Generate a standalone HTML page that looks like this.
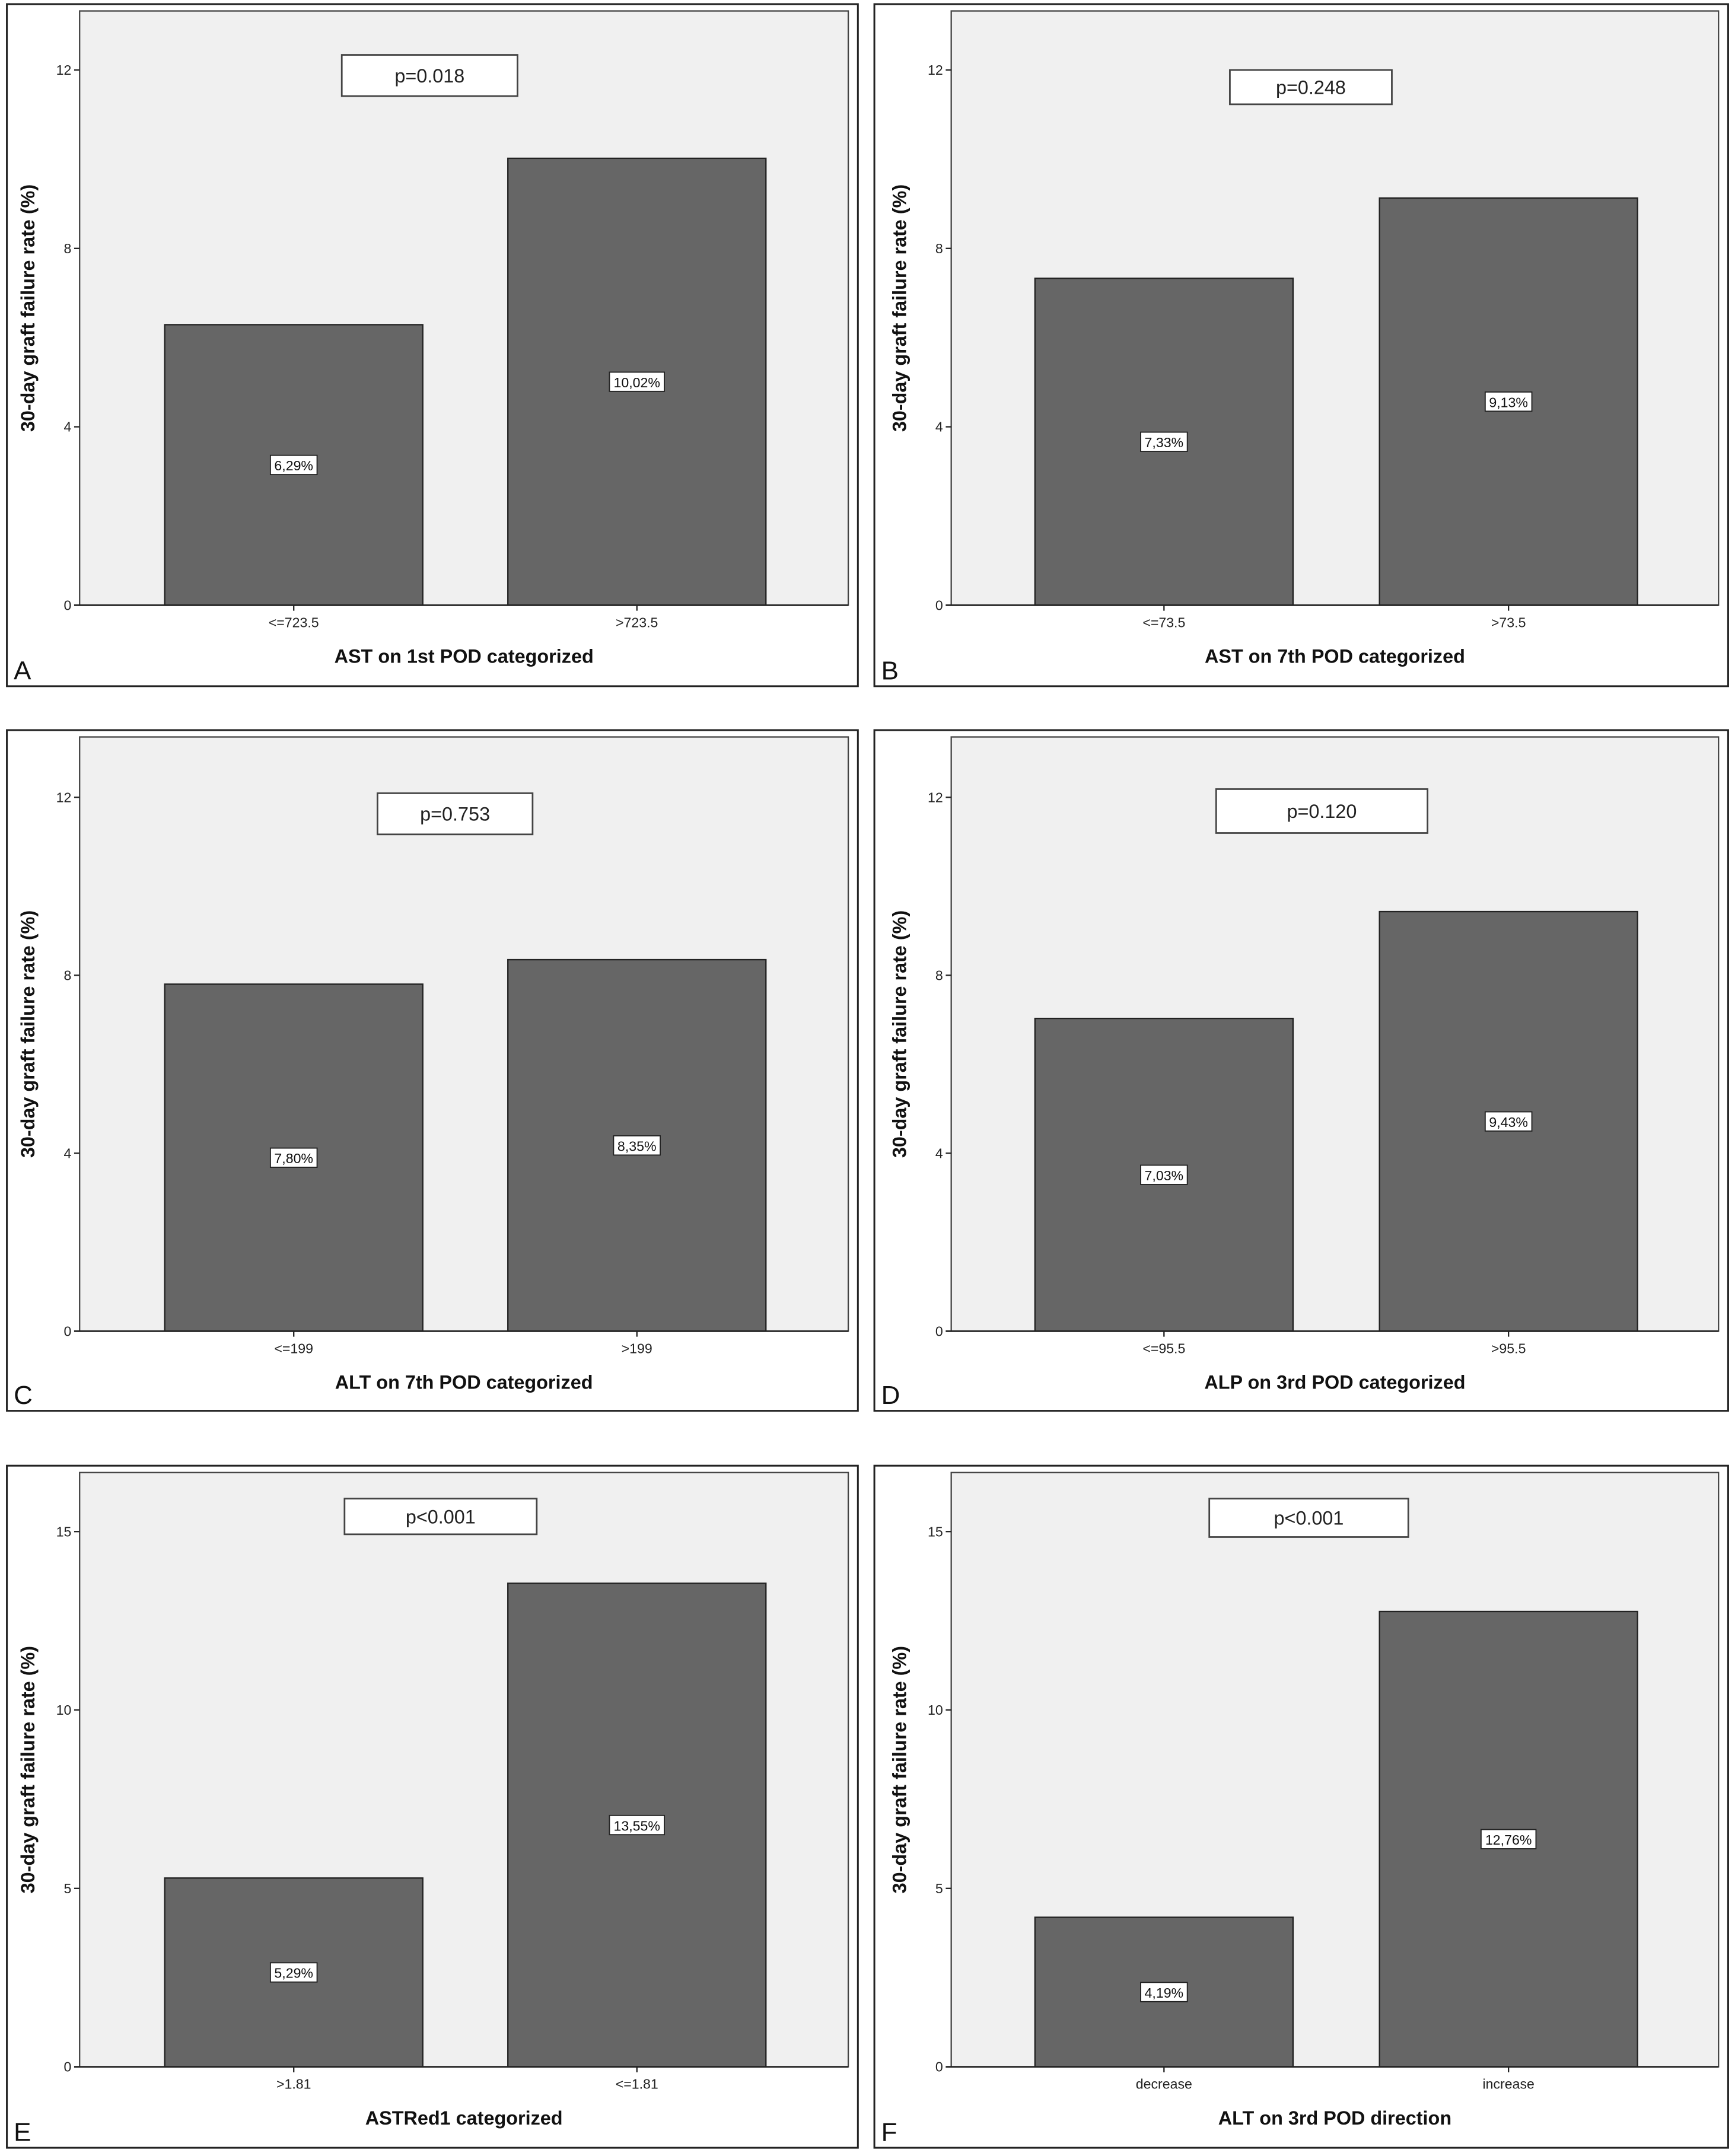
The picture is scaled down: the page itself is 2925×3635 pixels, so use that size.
<!DOCTYPE html>
<html><head><meta charset="utf-8"><style>
html,body{margin:0;padding:0;background:#fff}
svg{display:block}
text{font-family:"Liberation Sans",sans-serif}
</style></head><body>
<svg id="fig" width="2925" height="3635" viewBox="0 0 1264 1571" preserveAspectRatio="none" xmlns="http://www.w3.org/2000/svg"></svg>
<script>
const panelLetters = ["A","B","C","D","E","F"];
const xTitles = ["AST on 1st POD categorized","AST on 7th POD categorized","ALT on 7th POD categorized","ALP on 3rd POD categorized","ASTRed1 categorized","ALT on 3rd POD direction"];
const categoriesA = ["<=723.5",">723.5"];
const categoriesB = ["<=73.5",">73.5"];
const categoriesC = ["<=199",">199"];
const categoriesD = ["<=95.5",">95.5"];
const categoriesE = [">1.81","<=1.81"];
const categoriesF = ["decrease","increase"];
const valuesA = [6.29,10.02];
const valuesB = [7.33,9.13];
const valuesC = [7.80,8.35];
const valuesD = [7.03,9.43];
const valuesE = [5.29,13.55];
const valuesF = [4.19,12.76];
const labelsA = ["6,29%","10,02%"];
const labelsB = ["7,33%","9,13%"];
const labelsC = ["7,80%","8,35%"];
const labelsD = ["7,03%","9,43%"];
const labelsE = ["5,29%","13,55%"];
const labelsF = ["4,19%","12,76%"];
const pValues = ["p=0.018","p=0.248","p=0.753","p=0.120","p<0.001","p<0.001"];
const ticksRow12 = [0,4,8,12];
const ticksRow3 = [0,5,10,15];

const cats=[categoriesA,categoriesB,categoriesC,categoriesD,categoriesE,categoriesF];
const vals=[valuesA,valuesB,valuesC,valuesD,valuesE,valuesF];
const labs=[labelsA,labelsB,labelsC,labelsD,labelsE,labelsF];
const NS="http://www.w3.org/2000/svg";
const svg=document.getElementById('fig');
function mk(tag,attrs,parent,txt){const e=document.createElementNS(NS,tag);for(const k in attrs)e.setAttribute(k,attrs[k]);if(txt!==undefined)e.textContent=txt;(parent||svg).appendChild(e);return e;}
const cols=[{ox:5,ow:620,px:58,pr:618,bc:[214,464],yt:25},{ox:637,ow:622,px:693,pr:1252,bc:[848,1099],yt:660}];
const rows=[{oy:3,ob:500,pt:8,base:441,per:32.5,ticks:ticksRow12},{oy:532,ob:1028,pt:537,base:970,per:32.42,ticks:ticksRow12},{oy:1068,ob:1565,pt:1073,base:1506,per:26,ticks:ticksRow3}];
const pBoxes=[[249,40,128,30],[896,51,118,25],[275,578,113,30],[886,575,154,32],[251,1092,140,26],[881,1092,145,28]];
for(let i=0;i<6;i++){
  const c=cols[i%2], r=rows[Math.floor(i/2)];
  const g=mk('g',{});
  
  
  const y=v=>r.base-v*r.per;
  const outer=mk('rect',{x:c.ox,y:r.oy,width:c.ow,height:r.ob-r.oy,fill:'#fff',stroke:'#222','stroke-width':1.3},g);
  
  
  const plot=mk('rect',{x:c.px,y:r.pt,width:c.pr-c.px,height:r.base-r.pt,fill:'#f0f0f0',stroke:'#444','stroke-width':1},g);
  
  
  r.ticks.forEach(t=>{
    const tl=mk('line',{x1:c.px-4,x2:c.px,y1:y(t),y2:y(t),stroke:'#222','stroke-width':1},g);
    
    
    const tt=mk('text',{x:c.px-6,y:y(t)+3.5,'font-size':10,'text-anchor':'end',fill:'#222'},g,String(t));
    
    
  });
  const yt=mk('text',{x:c.yt,y:(r.pt+r.base)/2,'font-size':14,'font-weight':'bold','text-anchor':'middle',fill:'#111',transform:`rotate(-90 ${c.yt} ${(r.pt+r.base)/2})`},g,'30-day graft failure rate (%)');
  
  
  vals[i].forEach((v,j)=>{
    const cx=c.bc[j];
    const b=mk('rect',{x:cx-94,y:y(v),width:188,height:r.base-y(v),fill:'#666',stroke:'#222','stroke-width':1},g);
    
    
    const my=y(v/2);
    const w=labs[i][j].length*6+4;
    const lb=mk('rect',{x:cx-w/2,y:my-7,width:w,height:14,fill:'#fff',stroke:'#222','stroke-width':0.8},g);
    
    
    const lt=mk('text',{x:cx,y:my+4,'font-size':10,'text-anchor':'middle',fill:'#111'},g,labs[i][j]);
    
    
    const xt=mk('line',{x1:cx,x2:cx,y1:r.base,y2:r.base+4,stroke:'#222','stroke-width':1},g);
    
    
    const xl=mk('text',{x:cx,y:r.base+16,'font-size':10,'text-anchor':'middle',fill:'#222'},g,cats[i][j]);
    
    
  });
  const xa=mk('line',{x1:c.px-4,x2:c.pr,y1:r.base,y2:r.base,stroke:'#222','stroke-width':1.2},g);
  
  
  const xtt=mk('text',{x:(c.px+c.pr)/2,y:r.base+42,'font-size':14,'font-weight':'bold','text-anchor':'middle',fill:'#111'},g,xTitles[i]);
  
  
  const pb=pBoxes[i];
  const pr=mk('rect',{x:pb[0],y:pb[1],width:pb[2],height:pb[3],fill:'#fff',stroke:'#444','stroke-width':1.2},g);
  
  
  const pt=mk('text',{x:pb[0]+pb[2]/2,y:pb[1]+pb[3]/2+5,'font-size':14,'text-anchor':'middle',fill:'#222'},g,pValues[i]);
  
  
  const pl=mk('text',{x:c.ox+5,y:r.ob-5,'font-size':19,fill:'#111'},g,panelLetters[i]);
  
  
}
</script>
</body></html>
